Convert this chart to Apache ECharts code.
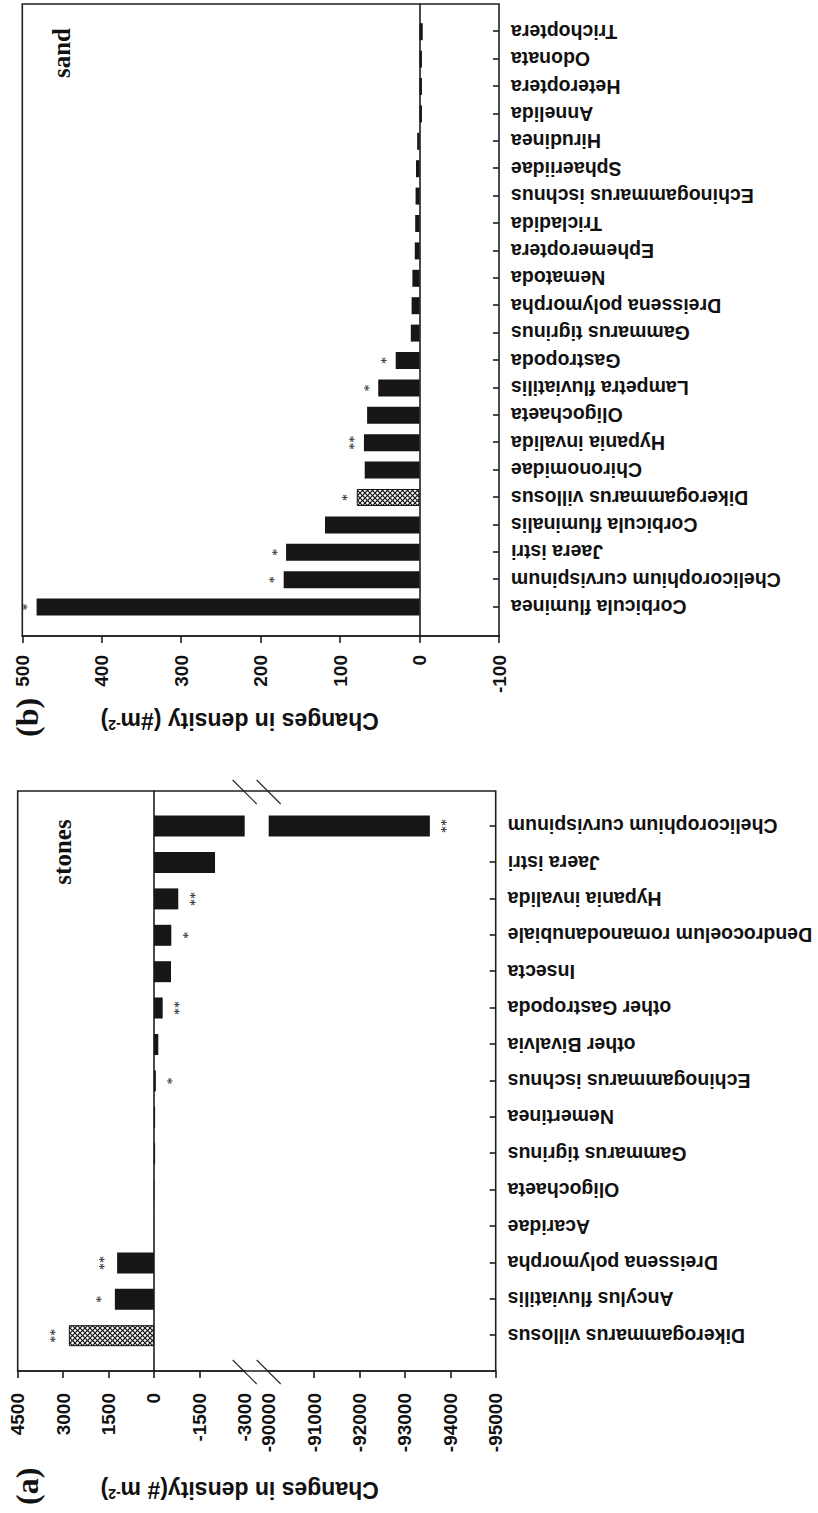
<!DOCTYPE html>
<html>
<head>
<meta charset="utf-8">
<script src="https://cdn.jsdelivr.net/npm/echarts@6/dist/echarts.min.js"></script>
<style>
  html, body { margin: 0; padding: 0; background: #fff; width: 818px; height: 1513px; overflow: hidden; }
  /* the figure is laid out landscape and turned a quarter turn counter-clockwise onto the page */
  #fig { position: absolute; left: 0; top: 0; width: 1513px; height: 818px;
         transform-origin: 0 0; transform: translateY(1513px) rotate(-90deg); }
</style>
</head>
<body>
<div id="fig"></div>
<script>
// ---------- data ----------
// (a) stones: change in density (# m-2)
const stonesTaxa = ['Dikerogammarus villosus', 'Ancylus fluviatilis', 'Dreissena polymorpha', 'Acaridae',
  'Oligochaeta', 'Gammarus tigrinus', 'Nemertinea', 'Echinogammarus ischnus', 'other Bivalvia',
  'other Gastropoda', 'Insecta', 'Dendrocoelum romanodanubiale', 'Hypania invalida', 'Jaera istri',
  'Chelicorophium curvispinum'];
const stonesChange = [2810, 1290, 1215, -5, -15, -40, -40, -65, -145, -290, -565, -575, -805, -2020, -93550];
const stonesSig = ['**', '*', '**', '', '', '', '', '*', '', '**', '', '*', '**', '', '**'];
const stonesUpperRange = [-3000, 4500];
const stonesUpperStep = 1500;
const stonesUpperTicks = [4500, 3000, 1500, 0, -1500];
const stonesLowerRange = [-95000, -90000];
const stonesLowerStep = 1000;
const stonesLowerTicks = [-91000, -92000, -93000, -94000, -95000];

// (b) sand: change in density (# m-2)
const sandTaxa = ['Corbicula fluminea', 'Chelicorophium curvispinum', 'Jaera istri', 'Corbicula fluminalis',
  'Dikerogammarus villosus', 'Chironomidae', 'Hypania invalida', 'Oligochaeta', 'Lampetra fluviatilis',
  'Gastropoda', 'Gammarus tigrinus', 'Dreissena polymorpha', 'Nematoda', 'Ephemeroptera', 'Tricladida',
  'Echinogammarus ischnus', 'Sphaeriidae', 'Hirudinea', 'Annelida', 'Heteroptera', 'Odonata', 'Trichoptera'];
const sandChange = [482, 171, 168, 119, 79, 69, 70, 66, 52, 30, 11, 10, 9, 6, 5.5, 5, 4.5, 3, -3, -3, -3, -4];
const sandSig = ['*', '*', '*', '', '*', '', '**', '', '*', '*', '', '', '', '', '', '', '', '', '', '', '', ''];
const sandRange = [-100, 500];
const sandStep = 100;

// taxa drawn with a cross-hatched bar
const hatchedTaxa = ['Dikerogammarus villosus'];

// ---------- layout (landscape figure coordinates) ----------
const A = { left: 142, top: 17.7, w: 580, h: 478, seg: 227, gap: 24, barLeft: 159.1, barW: 546 };
const B = { left: 877, top: 22.3, w: 632, h: 476.7, barLeft: 892.2, barW: 602.8 };

const SANS = "'Liberation Sans', Arial, Helvetica, sans-serif";
const SERIF = "'Liberation Serif', 'Times New Roman', serif";
const INK = '#161616';
const LINE = { color: '#1e1e1e', width: 1.6 };

function hatchImage() {
  const s = 5;
  const c = document.createElement('canvas');
  c.width = s; c.height = s;
  const g = c.getContext('2d');
  g.fillStyle = '#fff'; g.fillRect(0, 0, s, s);
  g.strokeStyle = '#111'; g.lineWidth = 1.2;
  g.beginPath();
  g.moveTo(0, 0); g.lineTo(s, s);
  g.moveTo(s, 0); g.lineTo(0, s);
  g.stroke();
  return c.toDataURL();
}
const hatch = { image: hatchImage(), repeat: 'repeat' };

function barItems(taxa, values, sig, labelVisible, upDist, downDist) {
  return values.map((v, i) => {
    const item = { value: v };
    if (hatchedTaxa.includes(taxa[i])) {
      item.itemStyle = { color: hatch, borderColor: '#111', borderWidth: 1 };
    }
    item.label = {
      show: sig[i] !== '' && labelVisible(v),
      position: v >= 0 ? 'top' : 'bottom',
      distance: v >= 0 ? upDist : downDist
    };
    return item;
  });
}

function starLabel(sig) {
  return { fontFamily: SERIF, fontSize: 14, color: '#111', lineHeight: 14, formatter: p => sig[p.dataIndex] };
}

const hidden = { show: false };
const noParts = { axisLine: hidden, axisTick: hidden, axisLabel: hidden, splitLine: hidden };

function valueTickAxis(gridIndex, range, step, ticks, margin) {
  const tick = { show: true, inside: false, length: 7, lineStyle: LINE };
  if (ticks) tick.customValues = ticks;
  return {
    gridIndex, type: 'value', min: range[0], max: range[1], interval: step,
    axisLine: { show: true, onZero: false, lineStyle: LINE },
    axisTick: tick,
    axisLabel: { show: true, margin, fontFamily: SANS, fontWeight: 'bold', fontSize: 19, color: '#111',
      showMinLabel: true, showMaxLabel: true, formatter: v => String(v) },
    splitLine: hidden
  };
}

function titleName(text, gap, shift) {
  return {
    name: text, nameLocation: 'middle', nameRotate: 90, nameGap: gap,
    nameTextStyle: {
      fontFamily: SANS, fontWeight: 'bold', fontSize: 23, color: '#111',
      padding: [0, 0, 0, shift * 2],
      rich: { sup: { fontFamily: SANS, fontWeight: 'bold', fontSize: 14, color: '#111', verticalAlign: 'top', padding: [0, 0, 9, 0] } }
    }
  };
}

function categoryAxis(gridIndex, taxa, withLabels) {
  return {
    gridIndex, type: 'category', data: taxa, position: 'bottom',
    axisLine: { show: false, onZero: false },
    axisTick: withLabels ? { show: true, inside: true, length: 6, alignWithLabel: true, lineStyle: LINE } : hidden,
    axisLabel: withLabels ? { show: true, interval: 0, rotate: 90, margin: 12, fontFamily: SANS,
      fontWeight: 'bold', fontSize: 19.5, color: '#111' } : hidden,
    splitLine: hidden
  };
}

const grids = [
  // 0 panel (a) frame
  { left: A.left, top: A.top, width: A.w, height: A.h, show: true, borderColor: LINE.color, borderWidth: LINE.width, backgroundColor: 'transparent' },
  // 1 panel (a) upper value segment (full frame width)
  { left: A.left, top: A.top, width: A.w, height: A.seg },
  // 2 panel (a) lower value segment (full frame width)
  { left: A.left, top: A.top + A.seg + A.gap, width: A.w, height: A.seg },
  // 3 panel (a) bars, upper segment
  { left: A.barLeft, top: A.top, width: A.barW, height: A.seg },
  // 4 panel (a) bars, lower segment
  { left: A.barLeft, top: A.top + A.seg + A.gap, width: A.barW, height: A.seg },
  // 5 panel (b) frame with value axis
  { left: B.left, top: B.top, width: B.w, height: B.h, show: true, borderColor: LINE.color, borderWidth: LINE.width, backgroundColor: 'transparent' },
  // 6 panel (b) bars
  { left: B.barLeft, top: B.top, width: B.barW, height: B.h }
].map(g => Object.assign({ containLabel: false, outerBoundsMode: 'none' }, g));

const xAxes = [
  Object.assign({ gridIndex: 0, type: 'value', min: 0, max: 1 }, noParts),
  // zero line across the whole frame
  Object.assign({ gridIndex: 1, type: 'value', min: 0, max: 1 }, noParts,
    { axisLine: { show: true, onZero: true, lineStyle: LINE } }),
  Object.assign({ gridIndex: 2, type: 'value', min: 0, max: 1 }, noParts),
  categoryAxis(3, stonesTaxa, false),
  categoryAxis(4, stonesTaxa, true),
  Object.assign({ gridIndex: 5, type: 'value', min: 0, max: 1 }, noParts,
    { axisLine: { show: true, onZero: true, lineStyle: LINE } }),
  categoryAxis(6, sandTaxa, true)
];

const yAxes = [
  Object.assign({ gridIndex: 0, type: 'value', min: 0, max: 1 }, noParts,
    titleName('Changes in density(# m{sup|-2})', 107, 17)),
  valueTickAxis(1, stonesUpperRange, stonesUpperStep, stonesUpperTicks, 22),
  valueTickAxis(2, stonesLowerRange, stonesLowerStep, stonesLowerTicks, 22),
  Object.assign({ gridIndex: 3, type: 'value', min: stonesUpperRange[0], max: stonesUpperRange[1] }, noParts),
  Object.assign({ gridIndex: 4, type: 'value', min: stonesLowerRange[0], max: stonesLowerRange[1] }, noParts),
  Object.assign(valueTickAxis(5, sandRange, sandStep, null, 19), titleName('Changes in density (#m{sup|-2})', 73, 21)),
  Object.assign({ gridIndex: 6, type: 'value', min: sandRange[0], max: sandRange[1] }, noParts)
];

const series = [
  {
    type: 'bar', xAxisIndex: 3, yAxisIndex: 3, clip: true, barWidth: 21,
    itemStyle: { color: INK }, label: starLabel(stonesSig),
    data: barItems(stonesTaxa, stonesChange, stonesSig, v => v >= stonesUpperRange[0], 6, 10)
  },
  {
    type: 'bar', xAxisIndex: 4, yAxisIndex: 4, clip: true, barWidth: 21,
    itemStyle: { color: INK }, label: starLabel(stonesSig),
    data: barItems(stonesTaxa, stonesChange, stonesSig, v => v <= stonesLowerRange[1], 6, 10)
  },
  {
    type: 'bar', xAxisIndex: 6, yAxisIndex: 6, clip: true, barWidth: 17,
    itemStyle: { color: INK }, label: starLabel(sandSig),
    data: barItems(sandTaxa, sandChange, sandSig, () => true, 2, 8)
  }
];

// axis-break marks on both long edges of panel (a)
const breakY = [A.top + A.seg, A.top + A.seg + A.gap];
const breakX = [A.left, A.left + A.w];
const slashes = [];
breakX.forEach(x => breakY.forEach(y => {
  slashes.push({ type: 'line', silent: true,
    shape: { x1: x + 11, y1: y - 12, x2: x - 13, y2: y + 12 },
    style: { stroke: '#222', lineWidth: 1.1 } });
}));

const texts = [
  { text: '(a)', x: 8, y: 27, size: 32, align: 'left' },
  { text: '(b)', x: 776, y: 27, size: 32, align: 'left' },
  { text: 'stones', x: 661, y: 62, size: 25, align: 'center' },
  { text: 'sand', x: 1460, y: 61, size: 25, align: 'center' }
].map(t => ({
  type: 'text', silent: true, x: t.x, y: t.y,
  style: { text: t.text, fontFamily: SERIF, fontWeight: 'bold', fontSize: t.size, fill: '#111',
    align: t.align, verticalAlign: 'middle' }
}));

const chart = echarts.init(document.getElementById('fig'), null, { renderer: 'svg', width: 1513, height: 818 });
chart.setOption({
  animation: false,
  backgroundColor: '#fff',
  grid: grids,
  xAxis: xAxes,
  yAxis: yAxes,
  series,
  graphic: slashes.concat(texts)
});
</script>
</body>
</html>
